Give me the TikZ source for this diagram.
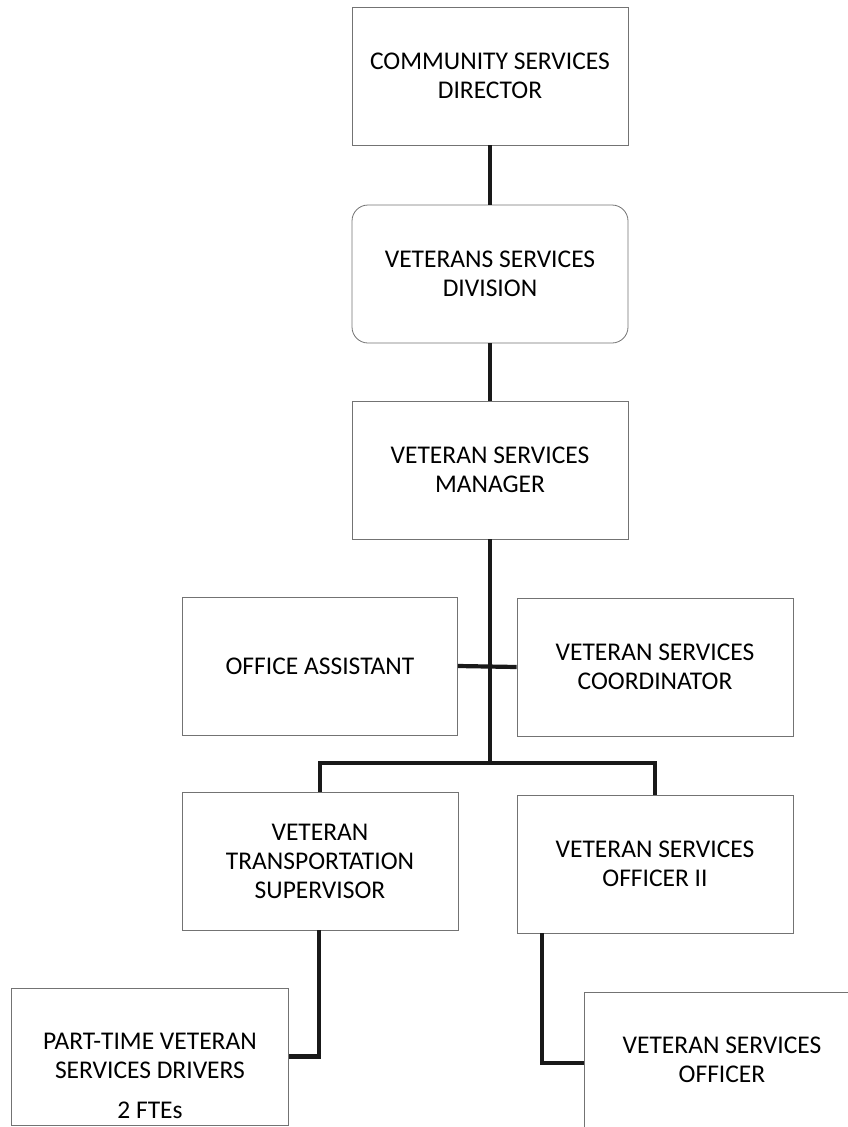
\documentclass[tikz,border=0pt]{standalone}
\usepackage{fontspec}
\setmainfont{Carlito}
\usepackage{tikz}
\usetikzlibrary{positioning}

\tikzset{
  post/.style={draw=black!55, line width=0.8pt, fill=white, align=center,
    minimum width=276pt, minimum height=138pt, inner sep=0pt,
    font=\fontsize{25.5}{29}\selectfont},
  unit/.style={post, rounded corners=16pt},
  link/.style={line width=4.2pt, black!90}
}

\begin{document}
\begin{tikzpicture}[x=1pt, y=-1pt]
        \useasboundingbox (0,0) rectangle (848,1127);
        \clip (0,0) rectangle (848,1127);

        \node[post] (dir) at (490, 76) {COMMUNITY SERVICES\\DIRECTOR};
        \node[unit] (div) at (490, 274) {VETERANS SERVICES\\DIVISION};
        \node[post] (mgr) at (490, 470) {VETERAN SERVICES\\MANAGER};
        \node[post, minimum width=275pt] (oa) at (320, 666) {OFFICE ASSISTANT};
        \node[post] (coord) at (655, 667) {VETERAN SERVICES\\COORDINATOR};
        \node[post] (trans) at (320, 861) {VETERAN\\TRANSPORTATION\\SUPERVISOR};
        \node[post] (vso2) at (655, 864) {VETERAN SERVICES\\OFFICER II};
        \node[post, minimum width=277pt, minimum height=137pt] (drv) at (150, 1056.5)
          {\rule{0pt}{56pt}PART-TIME VETERAN\\SERVICES DRIVERS\\[11pt]2 FTEs};
        \node[post, minimum height=142pt] (vso) at (722, 1063)
          {VETERAN SERVICES\\OFFICER\rule[-6pt]{0pt}{6pt}};

        \coordinate (bus) at (490, 763);
        \draw[link] (dir) -- (div);
        \draw[link] (div) -- (mgr);
        \draw[link] (mgr) -- (bus);
        \draw[link] (oa.east) -- (coord.west);
        \draw[link] (trans.north) |- (bus) -| (vso2.north);
        \draw[link] (trans.south -| 319,0) |- (drv.east);
        \draw[link] (vso2.south -| 542,0) |- (vso.west);
      \end{tikzpicture}
\end{document}
